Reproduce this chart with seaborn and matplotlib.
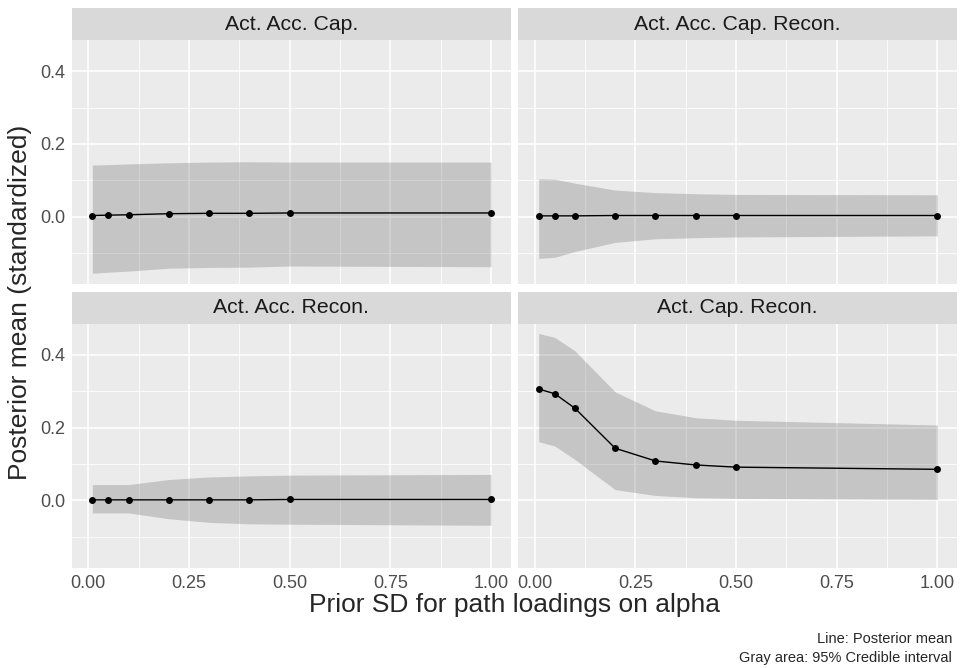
import numpy as np
import pandas as pd
import matplotlib
matplotlib.use('Agg')
import matplotlib.pyplot as plt
from matplotlib.ticker import FixedLocator
import seaborn as sns

# Prior SD 取值
prior_sd = [0.01, 0.05, 0.1, 0.2, 0.3, 0.4, 0.5, 1.0]

panels = ['Act. Acc. Cap.', 'Act. Acc. Cap. Recon.', 'Act. Acc. Recon.', 'Act. Cap. Recon.']

# 后验均值
mean_acc_cap = [0.003, 0.004, 0.005, 0.008, 0.009, 0.009, 0.010, 0.010]
mean_acc_cap_recon = [0.002, 0.002, 0.002, 0.003, 0.003, 0.003, 0.003, 0.003]
mean_acc_recon = [0.001, 0.001, 0.001, 0.001, 0.001, 0.001, 0.002, 0.002]
mean_cap_recon = [0.306, 0.293, 0.253, 0.143, 0.108, 0.097, 0.091, 0.085]

# 95% 可信区间
lo_acc_cap = [-0.156, -0.153, -0.150, -0.142, -0.140, -0.139, -0.136, -0.138]
hi_acc_cap = [0.142, 0.143, 0.145, 0.148, 0.150, 0.151, 0.150, 0.150]
lo_acc_cap_recon = [-0.115, -0.112, -0.096, -0.071, -0.061, -0.058, -0.056, -0.053]
hi_acc_cap_recon = [0.104, 0.103, 0.092, 0.073, 0.066, 0.063, 0.061, 0.060]
lo_acc_recon = [-0.035, -0.035, -0.035, -0.051, -0.061, -0.065, -0.066, -0.069]
hi_acc_recon = [0.043, 0.043, 0.043, 0.057, 0.064, 0.067, 0.069, 0.071]
lo_cap_recon = [0.161, 0.149, 0.112, 0.029, 0.013, 0.007, 0.005, 0.002]
hi_cap_recon = [0.459, 0.448, 0.411, 0.298, 0.246, 0.227, 0.220, 0.207]

means = [mean_acc_cap, mean_acc_cap_recon, mean_acc_recon, mean_cap_recon]
lows = [lo_acc_cap, lo_acc_cap_recon, lo_acc_recon, lo_cap_recon]
highs = [hi_acc_cap, hi_acc_cap_recon, hi_acc_recon, hi_cap_recon]

rows = []
for name, m, lo, hi in zip(panels, means, lows, highs):
    for x, a, b, c in zip(prior_sd, m, lo, hi):
        rows.append({'panel': name, 'sd': x, 'mean': a, 'lo': b, 'hi': c})
df = pd.DataFrame(rows)

sns.set_theme(style='darkgrid', rc={
    'axes.facecolor': '#EBEBEB',
    'grid.color': 'white',
    'axes.edgecolor': 'none',
})
plt.rcParams['font.family'] = ['Liberation Sans', 'DejaVu Sans']

fig, axes = plt.subplots(2, 2, figsize=(9.6, 6.68), dpi=100, sharex=True, sharey=True)
fig.subplots_adjust(left=0.075, right=0.997, bottom=0.150, top=1 - 40 / 668,
                    wspace=0.0173, hspace=0.1615)

for ax, name in zip(axes.flat, panels):
    d = df[df['panel'] == name]
    ax.fill_between(d['sd'], d['lo'], d['hi'], color='black', alpha=0.16, linewidth=0, zorder=2)
    sns.lineplot(data=d, x='sd', y='mean', ax=ax, color='black', linewidth=1.0,
                 marker='o', markersize=5, markeredgewidth=0, zorder=3)
    ax.set_xlim(-0.0405, 1.049)
    ax.set_ylim(-0.186, 0.486)
    ax.xaxis.set_major_locator(FixedLocator([0, 0.25, 0.5, 0.75, 1.0]))
    ax.xaxis.set_minor_locator(FixedLocator([0.125, 0.375, 0.625, 0.875]))
    ax.yaxis.set_major_locator(FixedLocator([0.0, 0.2, 0.4]))
    ax.yaxis.set_minor_locator(FixedLocator([-0.1, 0.1, 0.3]))
    ax.grid(which='major', color='white', linewidth=1.1)
    ax.grid(which='minor', color='white', linewidth=0.55)
    ax.set_xlabel('')
    ax.set_ylabel('')
    ax.tick_params(which='major', length=3, width=0.8, color='#333333',
                   labelsize=13, labelcolor='#4D4D4D', pad=2)
    ax.tick_params(which='minor', length=0)
    ax.set_xticklabels(['0.00', '0.25', '0.50', '0.75', '1.00'])
    ax.set_yticklabels(['0.0', '0.2', '0.4'])

    # 分面标题条
    pos = ax.get_position()
    strip = fig.add_axes([pos.x0, pos.y1, pos.width, 32 / 668])
    strip.set_facecolor('#D9D9D9')
    strip.set_xticks([])
    strip.set_yticks([])
    strip.grid(False)
    for s in strip.spines.values():
        s.set_visible(False)
    strip.text(0.5, 0.5, name, ha='center', va='center', fontsize=15.3, color='#1A1A1A')

for ax in axes[0, :]:
    ax.tick_params(axis='x', which='both', length=0, labelbottom=False)
for ax in axes[:, 1]:
    ax.tick_params(axis='y', which='both', length=0, labelleft=False)

fig.text(0.5 * (0.075 + 0.997), 1 - 605 / 668, 'Prior SD for path loadings on alpha',
         ha='center', va='center', fontsize=19)
fig.text(0.021, 1 - 302 / 668, 'Posterior mean (standardized)',
         ha='center', va='center', rotation=90, fontsize=19)
fig.text(0.992, 1 - 643 / 668, 'Line: Posterior mean', ha='right', va='baseline', fontsize=10.5)
fig.text(0.992, 1 - 662 / 668, 'Gray area: 95% Credible interval', ha='right', va='baseline', fontsize=10.5)

plt.savefig('out.png', dpi=100)
